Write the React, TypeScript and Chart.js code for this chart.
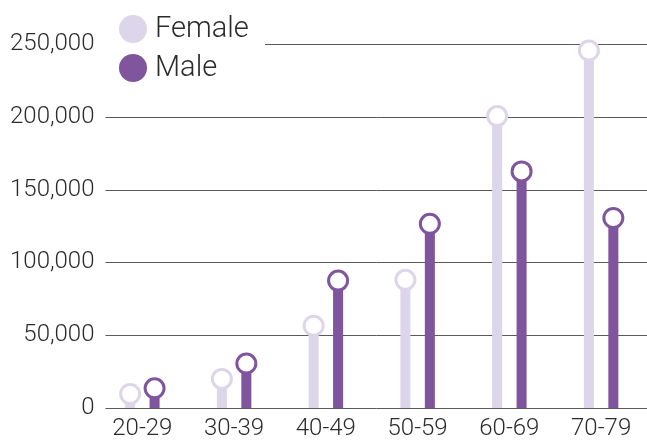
import React, { useEffect, useRef } from "react";
import { Chart, registerables } from "chart.js";

Chart.register(...registerables);

const categories = ["20-29", "30-39", "40-49", "50-59", "60-69", "70-79"];
const femaleValues = [9600, 20000, 56500, 88000, 200500, 245500];
const maleValues = [13500, 30500, 87500, 126500, 162500, 130500];
const seriesLabels = ["Female", "Male"];
const yTicks = [0, 50000, 100000, 150000, 200000, 250000];

const FEMALE = "#ddd5ea";
const MALE = "#7f559e";
const FONT = "Roboto";
const TEXT = "#2b2b2b";
const GRID = "#5a5a5a";

const gridPlugin = {
  id: "customGrid",
  beforeDatasetsDraw(chart: any) {
    const ctx = chart.ctx;
    const y = chart.scales.y;
    const { left, right } = chart.chartArea;
    ctx.save();
    ctx.strokeStyle = GRID;
    ctx.lineWidth = 1;
    y.ticks.forEach((t: any) => {
      const py = Math.round(y.getPixelForValue(t.value)) + 0.5;
      const startX = t.value === 250000 ? 265 : left + 9;
      ctx.beginPath();
      ctx.moveTo(startX, py);
      ctx.lineTo(right, py);
      ctx.stroke();
    });
    ctx.restore();
  },
};

const lollipopPlugin = {
  id: "lollipops",
  afterDatasetsDraw(chart: any) {
    const ctx = chart.ctx;
    chart.data.datasets.forEach((ds: any, i: number) => {
      const meta = chart.getDatasetMeta(i);
      meta.data.forEach((el: any) => {
        ctx.save();
        ctx.beginPath();
        ctx.arc(el.x, el.y, 9.5, 0, Math.PI * 2);
        ctx.fillStyle = "#ffffff";
        ctx.fill();
        ctx.lineWidth = 3;
        ctx.strokeStyle = ds.backgroundColor;
        ctx.stroke();
        ctx.restore();
      });
    });
  },
};

const legendPlugin = {
  id: "customLegend",
  afterDraw(chart: any) {
    const ctx = chart.ctx;
    ctx.save();
    const rows = [29, 68];
    chart.data.datasets.forEach((ds: any, i: number) => {
      const y = rows[i];
      ctx.beginPath();
      ctx.arc(133, y, 14, 0, Math.PI * 2);
      ctx.fillStyle = ds.backgroundColor;
      ctx.fill();
      ctx.fillStyle = TEXT;
      ctx.font = `300 29px ${FONT}`;
      ctx.textBaseline = "middle";
      ctx.textAlign = "left";
      ctx.fillText(ds.label, 155, y + 1);
    });
    ctx.restore();
  },
};

export default function App() {
  const ref = useRef<HTMLCanvasElement>(null);
  useEffect(() => {
    if (!ref.current) return;
    const chart = new Chart(ref.current, {
      type: "bar",
      data: {
        labels: categories,
        datasets: [
          {
            label: seriesLabels[0],
            data: femaleValues,
            backgroundColor: FEMALE,
            categoryPercentage: 0.533,
            barPercentage: 0.41,
          },
          {
            label: seriesLabels[1],
            data: maleValues,
            backgroundColor: MALE,
            categoryPercentage: 0.533,
            barPercentage: 0.41,
          },
        ],
      },
      options: {
        animation: false,
        responsive: false,
        maintainAspectRatio: false,
        layout: { padding: { top: 44, left: 8, right: 0, bottom: 0 } },
        plugins: {
          legend: { display: false },
          tooltip: { enabled: false },
        },
        scales: {
          x: {
            grid: { display: false, drawTicks: false },
            border: { display: false },
            afterFit(scale: any) {
              scale.height = 33;
            },
            ticks: {
              color: TEXT,
              font: { family: FONT, size: 24, weight: "300" },
              padding: 7,
              maxRotation: 0,
            },
          },
          y: {
            min: 0,
            max: 250000,
            afterBuildTicks(scale: any) {
              scale.ticks = yTicks.map((v) => ({ value: v }));
            },
            grid: { display: false, drawTicks: false },
            border: { display: false },
            ticks: {
              color: TEXT,
              font: { family: FONT, size: 24, weight: "300" },
              padding: 2,
              callback: (v: any) => Number(v).toLocaleString("en-US"),
            },
          },
        },
      },
      plugins: [gridPlugin, lollipopPlugin, legendPlugin],
    });
    return () => chart.destroy();
  }, []);
  return (
    <div style={{ position: "fixed", left: 0, top: 0, width: 647, height: 441, background: "#fff" }}>
      <canvas ref={ref} width={647} height={441} style={{ width: 647, height: 441 }} />
    </div>
  );
}
